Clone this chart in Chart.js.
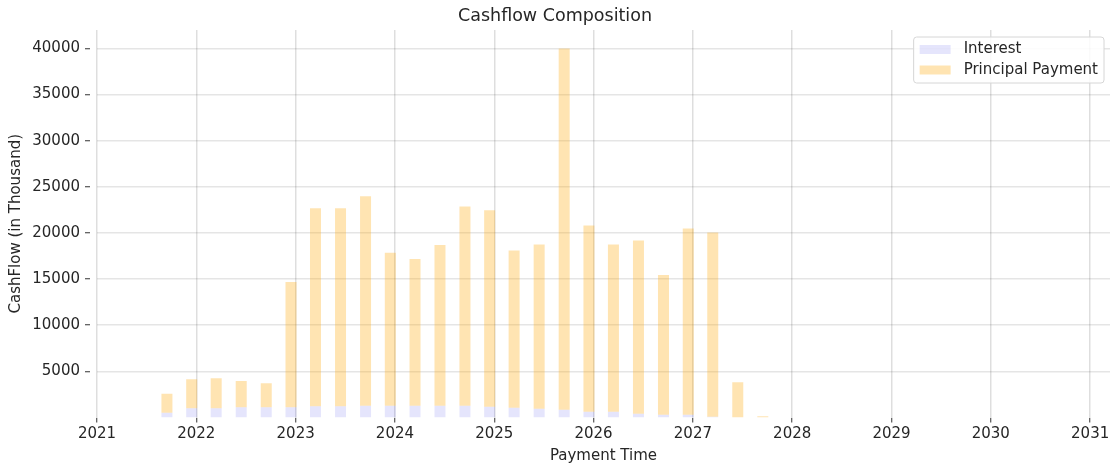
<!DOCTYPE html>
<html>
<head>
<meta charset="utf-8">
<title>Cashflow Composition</title>
<script src="https://cdn.jsdelivr.net/npm/chart.js@4.4.1/dist/chart.umd.min.js"></script>
<style>
  html, body { margin: 0; padding: 0; background: #ffffff; }
  #wrap { position: relative; width: 1112px; height: 465px; }
</style>
</head>
<body>
<div id="wrap"><canvas id="cashflow-chart" width="1112" height="465"></canvas></div>
<script>
// Quarterly payment dates
const paymentDates = [
  '2021-09-15', '2021-12-15', '2022-03-15', '2022-06-15', '2022-09-15',
  '2022-12-15', '2023-03-15', '2023-06-15', '2023-09-15', '2023-12-15',
  '2024-03-15', '2024-06-15', '2024-09-15', '2024-12-15', '2025-03-15',
  '2025-06-15', '2025-09-15', '2025-12-15', '2026-03-15', '2026-06-15',
  '2026-09-15', '2026-12-15', '2027-03-15', '2027-06-15', '2027-09-15'
];

// Values in thousand
const interest = [
  520, 1000, 1000, 1100, 1100, 1100, 1210, 1210, 1280, 1280,
  1280, 1280, 1280, 1170, 1060, 950, 850, 630, 630, 410,
  300, 300, 90, 0, 0
];
const principalPayment = [
  2060, 3140, 3250, 2860, 2610, 13600, 21480, 21480, 22710, 16590,
  15910, 17430, 21580, 21300, 17030, 17790, 39150, 20170, 18110, 18770,
  15150, 20180, 19950, 3820, 130
];

// Tick labels
const yearTicks = [2021, 2022, 2023, 2024, 2025, 2026, 2027, 2028, 2029, 2030, 2031];
const cashTicks = [5000, 10000, 15000, 20000, 25000, 30000, 35000, 40000];

const textColor = '#262626';
const fontFamily = '"DejaVu Sans", sans-serif';

// date string -> decimal year (for the linear x axis)
function toYear(str) {
  const d = new Date(str + 'T00:00:00Z');
  const y = d.getUTCFullYear();
  const start = Date.UTC(y, 0, 1);
  const end = Date.UTC(y + 1, 0, 1);
  return y + (d.getTime() - start) / (end - start);
}

// Legend box drawn inside the plot, top right
const boxLegend = {
  id: 'boxLegend',
  afterDatasetsDraw(chart) {
    const ctx = chart.ctx;
    const area = chart.chartArea;
    const sets = chart.data.datasets;
    ctx.save();
    ctx.font = '15px ' + fontFamily;
    let textW = 0;
    sets.forEach(ds => { textW = Math.max(textW, ctx.measureText(ds.label).width); });
    const w = 50 + textW + 6;
    const h = 46;
    const x = area.right - 6 - w;
    const y = area.top + 7;
    ctx.beginPath();
    ctx.roundRect(x, y, w, h, 3);
    ctx.fillStyle = 'rgba(255,255,255,0.85)';
    ctx.fill();
    ctx.strokeStyle = '#d6d6d6';
    ctx.lineWidth = 1;
    ctx.stroke();
    sets.forEach((ds, i) => {
      const cy = y + 12.5 + i * 20.5;
      ctx.fillStyle = ds.backgroundColor;
      ctx.fillRect(x + 6, cy - 4.5, 31, 9);
      ctx.fillStyle = textColor;
      ctx.textBaseline = 'middle';
      ctx.textAlign = 'left';
      ctx.fillText(ds.label, x + 50, cy);
    });
    ctx.restore();
  }
};

document.addEventListener('DOMContentLoaded', function() {
  const ctx = document.getElementById('cashflow-chart').getContext('2d');
  const xs = paymentDates.map(toYear);

  const cashflowChart = new Chart(ctx, {
    type: 'bar',
    data: {
      datasets: [
        {
          label: 'Interest',
          data: xs.map((x, i) => ({ x: x, y: interest[i] })),
          backgroundColor: 'rgba(0, 0, 230, 0.1)',
          borderWidth: 0,
          stack: 'cf',
          barPercentage: 0.45,
          categoryPercentage: 1
        },
        {
          label: 'Principal Payment',
          data: xs.map((x, i) => ({ x: x, y: principalPayment[i] })),
          backgroundColor: 'rgba(255, 165, 0, 0.3)',
          borderWidth: 0,
          stack: 'cf',
          barPercentage: 0.45,
          categoryPercentage: 1
        }
      ]
    },
    options: {
      responsive: false,
      animation: false,
      devicePixelRatio: 1,
      layout: { padding: { right: 2, top: 0, left: 0, bottom: 0 } },
      scales: {
        x: {
          type: 'linear',
          min: 2021,
          max: 2031.2,
          offset: false,
          border: { display: false },
          afterBuildTicks: scale => { scale.ticks = yearTicks.map(v => ({ value: v })); },
          afterFit: scale => {
            scale.height = 47.5;
            // let the last year label hang over the edge like the original
            scale.paddingLeft = 0;
            scale.paddingRight = 0;
          },
          grid: {
            offset: false,
            color: 'rgba(0, 0, 0, 0.13)',
            lineWidth: 1.5,
            tickLength: 5,
            tickColor: '#333333',
            tickWidth: 1
          },
          ticks: {
            color: textColor,
            font: { family: fontFamily, size: 15 },
            padding: 3,
            maxRotation: 0,
            callback: v => String(v)
          },
          title: {
            display: true,
            text: 'Payment Time',
            color: textColor,
            font: { family: fontFamily, size: 15 },
            padding: { top: 4, bottom: 0 }
          }
        },
        y: {
          min: 0,
          max: 42000,
          border: { display: false },
          afterBuildTicks: scale => { scale.ticks = cashTicks.map(v => ({ value: v })); },
          afterFit: scale => { scale.width = 97; },
          grid: {
            color: 'rgba(0, 0, 0, 0.1)',
            lineWidth: 1.5,
            tickLength: 12,
            tickColor: '#333333',
            tickWidth: 1,
            tickBorderDash: [5, 7]
          },
          ticks: {
            color: textColor,
            font: { family: fontFamily, size: 15 },
            padding: 5,
            callback: v => String(v)
          },
          title: {
            display: true,
            text: 'CashFlow (in Thousand)',
            color: textColor,
            font: { family: fontFamily, size: 15 },
            padding: { top: 7, bottom: 0 }
          }
        }
      },
      plugins: {
        legend: { display: false },
        tooltip: { enabled: false },
        title: {
          display: true,
          text: 'Cashflow Composition',
          color: textColor,
          font: { family: fontFamily, size: 17.5, weight: 'normal' },
          padding: { top: 6, bottom: 3 }
        }
      }
    },
    plugins: [boxLegend]
  });

  window.cashflowChart = cashflowChart;
});
</script>
</body>
</html>
